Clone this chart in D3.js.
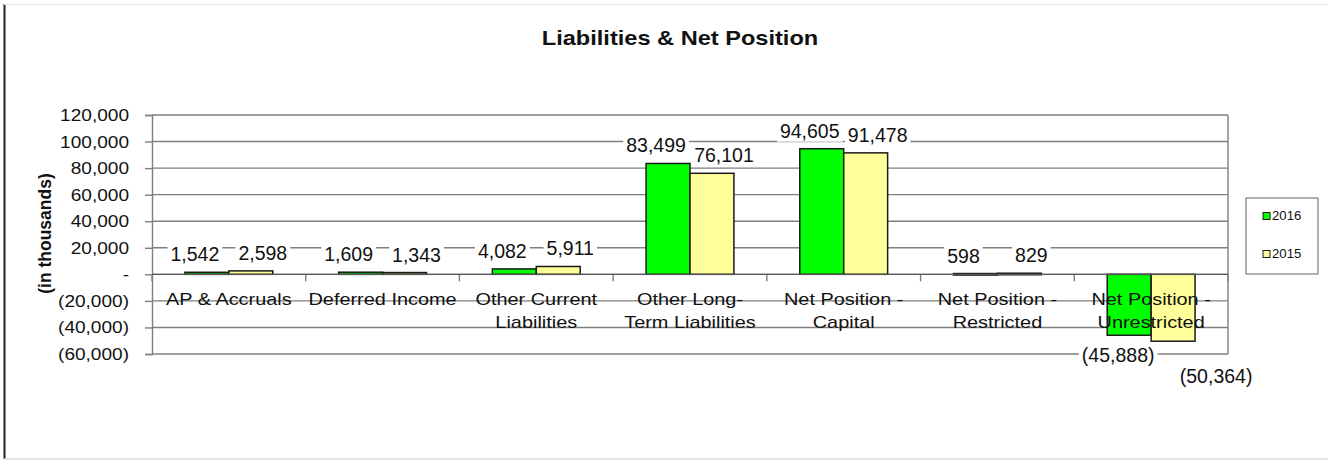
<!DOCTYPE html>
<html>
<head>
<meta charset="utf-8">
<script src="https://cdn.jsdelivr.net/npm/d3@7"></script>
<style>
  html, body { margin: 0; padding: 0; background: #fff; }
  svg { display: block; font-family: "Liberation Sans", Arial, sans-serif; }
</style>
</head>
<body>
<svg id="chart" width="1328" height="460"></svg>
<script>
// Category names (split into display lines)
const categories = [
  ["AP & Accruals"],
  ["Deferred Income"],
  ["Other Current", "Liabilities"],
  ["Other Long-", "Term Liabilities"],
  ["Net Position -", "Capital"],
  ["Net Position -", "Restricted"],
  ["Net Position -", "Unrestricted"]
];
const seriesNames = ["2016", "2015"];
const values2016 = [1542, 1609, 4082, 83499, 94605, 598, -45888];
const values2015 = [2598, 1343, 5911, 76101, 91478, 829, -50364];
const yTicks = [120000, 100000, 80000, 60000, 40000, 20000, 0, -20000, -40000, -60000];
const colors = ["#00ff00", "#ffff99"];

const svg = d3.select("#chart");
const W = 1328, H = 460;
const plot = { left: 152, right: 1228, top: 115, bottom: 354 };
const SX = 1.17; // horizontal text widening used throughout the chart

// text helper: widened horizontally around its anchor point
function wideText(parent, x, y, str, sx = SX) {
  return parent.append("text")
    .attr("x", x / sx).attr("y", y)
    .attr("transform", `scale(${sx},1)`)
    .text(str);
}

// outer frame
svg.append("line").attr("x1", 4.5).attr("x2", 4.5).attr("y1", 4).attr("y2", 459)
  .attr("stroke", "#222").attr("stroke-width", 2);
svg.append("line").attr("x1", 4).attr("x2", W).attr("y1", 4.5).attr("y2", 4.5)
  .attr("stroke", "#e6e6e6").attr("stroke-width", 1);
svg.append("line").attr("x1", 4).attr("x2", W).attr("y1", 459).attr("y2", 459)
  .attr("stroke", "#dcdcdc").attr("stroke-width", 1.5);

// title
wideText(svg, 680, 45, "Liabilities & Net Position", 1.18)
  .attr("text-anchor", "middle").attr("font-size", 20).attr("font-weight", "bold").attr("fill", "#111");

const y = d3.scaleLinear().domain([-60000, 120000]).range([plot.bottom, plot.top]);
const x0 = d3.scaleBand().domain(d3.range(categories.length))
  .range([plot.left, plot.right]).paddingInner(0).paddingOuter(0);
const catW = x0.bandwidth();
const barW = catW / 3.5; // gap width 150%

// gridlines
const g = svg.append("g");
g.selectAll("line.grid").data(yTicks).enter().append("line")
  .attr("x1", plot.left).attr("x2", plot.right)
  .attr("y1", d => y(d)).attr("y2", d => y(d))
  .attr("stroke", "#7f7f7f").attr("stroke-width", 1.4);
// right border
g.append("line").attr("x1", plot.right).attr("x2", plot.right)
  .attr("y1", plot.top).attr("y2", plot.bottom)
  .attr("stroke", "#7f7f7f").attr("stroke-width", 1.4);

// y axis
const fmt = d3.format(",");
const tickFmt = d => d === 0 ? "-" : d < 0 ? `(${fmt(-d)})` : fmt(d);
const yAxis = d3.axisLeft(y).tickValues(yTicks).tickSize(7).tickFormat("");
const ya = svg.append("g").attr("transform", `translate(${plot.left},0)`).call(yAxis);
ya.select(".domain").attr("stroke", "#7f7f7f").attr("stroke-width", 1.4);
ya.selectAll(".tick line").attr("stroke", "#7f7f7f").attr("stroke-width", 1.4);
const tickG = svg.append("g");
yTicks.forEach(t => {
  wideText(tickG, plot.left - 23, y(t) + 6, tickFmt(t))
    .attr("text-anchor", "end").attr("font-size", 16.3).attr("fill", "#111");
});

// y axis title
svg.append("text").attr("transform", `translate(51,${(plot.top + plot.bottom) / 2 - 1}) rotate(-90)`)
  .attr("text-anchor", "middle").attr("font-size", 17.5).attr("font-weight", "bold").attr("fill", "#111")
  .text("(in thousands)");

// category tick marks along zero line
svg.selectAll("line.ctick").data(d3.range(categories.length + 1)).enter().append("line")
  .attr("x1", i => plot.left + i * catW).attr("x2", i => plot.left + i * catW)
  .attr("y1", y(0)).attr("y2", y(0) + 7)
  .attr("stroke", "#7f7f7f").attr("stroke-width", 1.4);

// bars
const series = [values2016, values2015];
const barG = svg.append("g");
series.forEach((vals, s) => {
  barG.selectAll(`rect.s${s}`).data(vals).enter().append("rect")
    .attr("x", (d, i) => x0(i) + catW / 2 - barW + s * barW)
    .attr("y", d => y(Math.max(0, d)))
    .attr("width", barW)
    .attr("height", d => Math.max(1.5, Math.abs(y(d) - y(0))))
    .attr("fill", colors[s]).attr("stroke", "#1a1a1a").attr("stroke-width", 1.5);
});

// zero line
svg.append("line").attr("x1", plot.left).attr("x2", plot.right)
  .attr("y1", y(0)).attr("y2", y(0)).attr("stroke", "#555").attr("stroke-width", 1.4);

// category labels
const catG = svg.append("g");
categories.forEach((lines, i) => {
  lines.forEach((ln, k) => {
    wideText(catG, x0(i) + catW / 2, y(0) + 31 + k * 23, ln)
      .attr("text-anchor", "middle").attr("font-size", 17).attr("fill", "#111");
  });
});

// data labels with white backing, nudged apart within each pair
const labG = svg.append("g");
const posShift = [-12, 12];
const negShift = [-11, 43];
const negDrop = [20, 35];
series.forEach((vals, s) => {
  vals.forEach((v, i) => {
    const bx = x0(i) + catW / 2 - barW / 2 + s * barW;
    const cx = bx + (v >= 0 ? posShift[s] : negShift[s]);
    const cy = v >= 0 ? y(v) - 18 : y(v) + negDrop[s];
    const txt = v < 0 ? `(${fmt(-v)})` : fmt(v);
    const t = labG.append("text").attr("x", cx).attr("y", cy + 7)
      .attr("text-anchor", "middle").attr("font-size", 19.5).attr("fill", "#111").text(txt);
    const bb = t.node().getBBox();
    labG.insert("rect", () => t.node())
      .attr("x", bb.x - 3).attr("y", bb.y).attr("width", bb.width + 6).attr("height", bb.height)
      .attr("fill", "#fff");
  });
});

// legend
const lg = svg.append("g");
lg.append("rect").attr("x", 1246).attr("y", 198).attr("width", 72).attr("height", 76)
  .attr("fill", "#fff").attr("stroke", "#7f7f7f").attr("stroke-width", 1.2);
seriesNames.forEach((name, s) => {
  const yy = 216 + s * 38;
  lg.append("rect").attr("x", 1263).attr("y", yy - 3.5).attr("width", 7).attr("height", 7)
    .attr("fill", colors[s]).attr("stroke", "#1a1a1a").attr("stroke-width", 1);
  wideText(lg, 1272, yy + 4.5, name, 1.1).attr("font-size", 12).attr("fill", "#111");
});
</script>
</body>
</html>
